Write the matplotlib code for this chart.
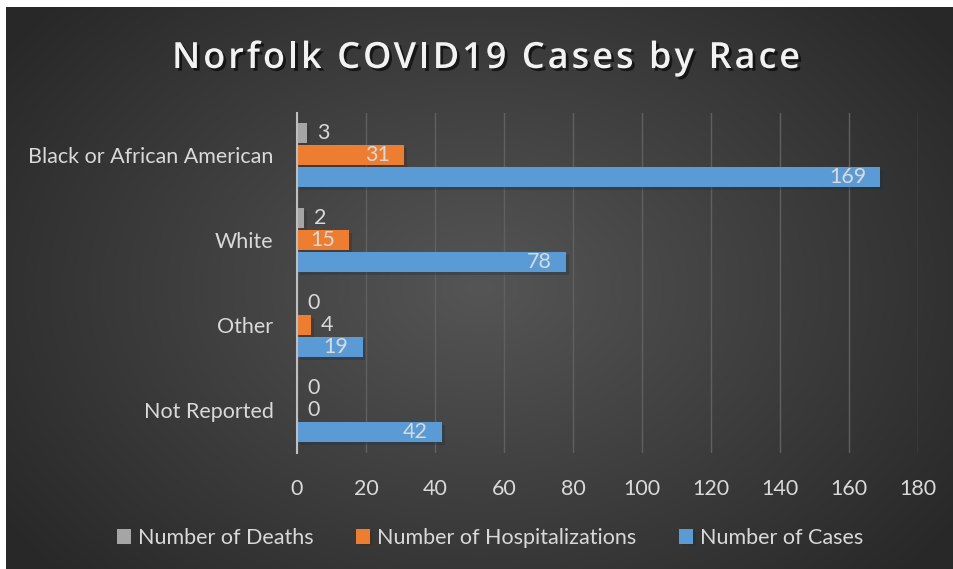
import numpy as np
import matplotlib
matplotlib.use("Agg")
import matplotlib.pyplot as plt
import matplotlib.patheffects as pe

categories = ["Not Reported", "Other", "White", "Black or African American"]
deaths = [0, 0, 2, 3]
hospitalizations = [0, 4, 15, 31]
cases = [42, 19, 78, 169]
series_names = ["Number of Deaths", "Number of Hospitalizations", "Number of Cases"]
xticks = [0, 20, 40, 60, 80, 100, 120, 140, 160, 180]
title = "Norfolk COVID19 Cases by Race"

W, H = 954, 569
fig = plt.figure(figsize=(W / 100, H / 100), dpi=100)
fig.patch.set_facecolor("white")

FONT = ["Lato", "DejaVu Sans"]
TXT = "#d9d9d9"
FS = 15.5

# background with radial gradient
bx0, by0, bx1, by1 = 6, 7, 954, 569
bg = fig.add_axes([bx0 / W, 1 - by1 / H, (bx1 - bx0) / W, (by1 - by0) / H])
gx = np.linspace(0, 1, 400)
gy = np.linspace(0, 1, 240)
X, Y = np.meshgrid(gx, gy)
r = np.sqrt(((X - 0.5) / 0.62) ** 2 + ((Y - 0.5) / 0.75) ** 2)
r = np.clip(r, 0, 1)
c0, c1 = 0x55 / 255, 0x28 / 255
img = c0 + (c1 - c0) * r
bg.imshow(np.dstack([img, img, img]), aspect="auto", extent=[0, 1, 0, 1])
bg.set_axis_off()

# main axes
left, right, top, bottom = 297, 918, 112.5, 452.5
ax = fig.add_axes([left / W, 1 - bottom / H, (right - left) / W, (bottom - top) / H])
ax.set_facecolor("none")

y = np.arange(len(categories))
bh = 0.235
off = 0.26
colors = ["#a5a5a5", "#ed7d31", "#5b9bd5"]
vals = [deaths, hospitalizations, cases]
offsets = [off, 0, -off]

shadow = [pe.SimplePatchShadow(offset=(2, -2), alpha=0.35), pe.Normal()]
bars = []
for v, c, o, name in zip(vals, colors, offsets, series_names):
    b = ax.barh(y + o, v, height=bh, color=c, label=name, zorder=3)
    for p in b:
        p.set_path_effects(shadow)
    bars.append(b)

ax.set_xlim(0, 180)
ax.set_ylim(-0.5, 3.5)
ax.set_xticks(xticks)
ax.set_xticklabels([str(t) for t in xticks], fontsize=FS, color=TXT, family=FONT)
ax.set_yticks(y)
ax.set_yticklabels(categories, fontsize=FS, color=TXT, family=FONT)
ax.tick_params(axis="both", length=0)
ax.tick_params(axis="x", pad=19)
ax.tick_params(axis="y", pad=17)
ax.grid(axis="x", color="#606060", linewidth=1, zorder=0)
for s in ["top", "right", "bottom"]:
    ax.spines[s].set_visible(False)
ax.spines["left"].set_color("#bfbfbf")
ax.spines["left"].set_linewidth(1.5)
ax.spines["left"].set_zorder(4)

# data labels
px = 0.72  # points per pixel
for si, (v, o) in enumerate(zip(vals, offsets)):
    for i, val in enumerate(v):
        yy = y[i] + o
        inside = si > 0 and val >= 10
        if inside:
            ax.annotate(str(val), (val, yy), xytext=(-14 * px, 0), textcoords="offset points",
                        ha="right", va="center", fontsize=FS, color=TXT, family=FONT, zorder=5)
        else:
            ax.annotate(str(val), (val, yy), xytext=(10 * px, 0), textcoords="offset points",
                        ha="left", va="center", fontsize=FS, color=TXT, family=FONT, zorder=5)

# title with letter spacing
renderer = fig.canvas.get_renderer()
tkw = dict(fontsize=26, fontweight="semibold", color="#f2f2f2", family=["Open Sans", "DejaVu Sans"],
           va="baseline", ha="left",
           path_effects=[pe.withSimplePatchShadow(offset=(2, -2), shadow_rgbFace="black", alpha=0.6)])
target_w = 628.0
probe = fig.text(0, 0, title, **tkw)
base_w = probe.get_window_extent(renderer).width
probe.remove()
# measure per-char advances
adv = []
for i in range(len(title)):
    t1 = fig.text(0, 0, title[: i + 1].replace(" ", "\u00a0"), **tkw)
    adv.append(t1.get_window_extent(renderer).width)
    t1.remove()
spacing = (target_w - base_w) / (len(title) - 1)
x0 = 172.0
baseline = H - 68
prev = 0.0
for i, ch in enumerate(title):
    xpos = x0 + prev + i * spacing
    if ch != " ":
        fig.text(xpos / W, baseline / H, ch, **tkw)
    prev = adv[i]

# legend
leg = fig.legend(handles=bars, labels=series_names, loc="center", bbox_to_anchor=(490 / W, 1 - 538 / H),
                 ncol=3, frameon=False, prop={"family": FONT, "size": FS}, labelcolor=TXT,
                 handlelength=0.65, handleheight=0.65, handletextpad=0.3, columnspacing=2.0)

fig.savefig("out.png", dpi=100, facecolor=fig.get_facecolor())
